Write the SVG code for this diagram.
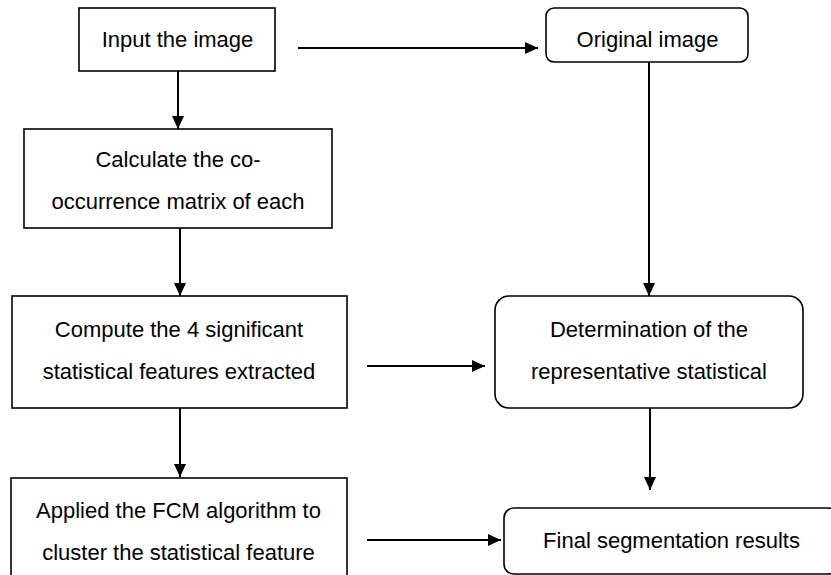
<svg xmlns="http://www.w3.org/2000/svg" width="831" height="575" viewBox="0 0 831 575">
<style>
.box{fill:#fff;stroke:#000;stroke-width:1.6}
.t{font-family:"Liberation Sans",Arial,sans-serif;font-size:22px;fill:#000;text-anchor:middle}
.c{stroke:#000;stroke-width:2;fill:none;marker-end:url(#ah)}
</style>
<defs>
<marker id="ah" markerUnits="userSpaceOnUse" markerWidth="14" markerHeight="12" refX="13" refY="6" orient="auto">
<path d="M0,0 L13,6 L0,12 Z" fill="#000"/>
</marker>
</defs>
<rect width="831" height="575" fill="#fff"/>
<g id="connectors">
<line class="c" x1="298" y1="48" x2="538" y2="48"/>
<line class="c" x1="178" y1="71" x2="178" y2="129"/>
<line class="c" x1="180" y1="228" x2="180" y2="296"/>
<line class="c" x1="649" y1="62" x2="649" y2="296"/>
<line class="c" x1="367" y1="366" x2="485" y2="366"/>
<line class="c" x1="180" y1="408" x2="180" y2="477"/>
<line class="c" x1="650" y1="408" x2="650" y2="490"/>
<line class="c" x1="367" y1="540" x2="501" y2="540"/>
</g>
<g id="n1">
<rect class="box" x="79" y="8" width="196" height="63"/>
<text class="t" x="177.5" y="47">Input the image</text>
</g>
<g id="n2">
<rect class="box" x="546" y="8" width="202" height="54" rx="8"/>
<text class="t" x="647.5" y="47">Original image</text>
</g>
<g id="n3">
<rect class="box" x="24" y="129" width="308" height="99"/>
<text class="t" x="178" y="167">Calculate the co-</text>
<text class="t" x="178" y="209">occurrence matrix of each</text>
</g>
<g id="n4">
<rect class="box" x="12" y="296" width="335" height="112"/>
<text class="t" x="179" y="337">Compute the 4 significant</text>
<text class="t" x="179" y="379">statistical features extracted</text>
</g>
<g id="n5">
<rect class="box" x="495" y="296" width="308" height="112" rx="14"/>
<text class="t" x="649" y="337">Determination of the</text>
<text class="t" x="649" y="379">representative statistical</text>
</g>
<g id="n6">
<rect class="box" x="11" y="478" width="336" height="102"/>
<text class="t" x="178.5" y="518">Applied the FCM algorithm to</text>
<text class="t" x="178.5" y="560">cluster the statistical feature</text>
</g>
<g id="n7">
<rect class="box" x="504" y="508" width="334" height="66" rx="10"/>
<text class="t" x="671.5" y="548">Final segmentation results</text>
</g>
</svg>
